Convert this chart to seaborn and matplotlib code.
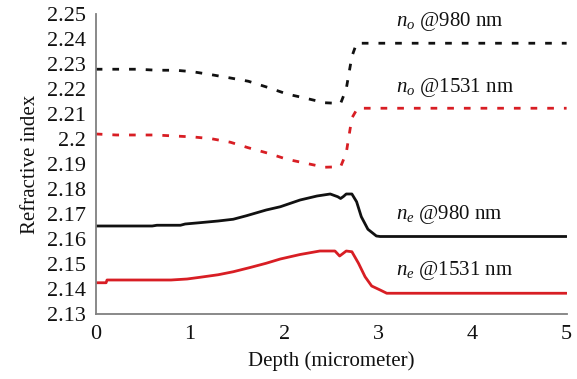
import matplotlib
matplotlib.use("Agg")
import matplotlib.pyplot as plt
import seaborn as sns
import pandas as pd

# Ordinary index n_o (dashed curves)
no_980_depth = [0, 0.25, 0.45, 0.65, 0.85, 1.03, 1.23, 1.43, 1.62, 1.83, 2.03, 2.23, 2.43, 2.60,
                2.66, 2.72, 2.77, 3.0, 3.5, 4.0, 4.5, 5.0]
no_980 = [2.2279, 2.2279, 2.2279, 2.2275, 2.2275, 2.2269, 2.2257, 2.2244, 2.2231, 2.2206, 2.2180,
          2.2163, 2.2145, 2.2142, 2.2200, 2.2330, 2.2383, 2.2383, 2.2383, 2.2383, 2.2383, 2.2383]

no_1531_depth = [0, 0.22, 0.44, 0.63, 0.84, 1.04, 1.23, 1.43, 1.62, 1.83, 2.03, 2.23, 2.43, 2.60,
                 2.66, 2.72, 2.78, 3.0, 3.5, 4.0, 4.5, 5.0]
no_1531 = [2.2020, 2.2016, 2.2016, 2.2016, 2.2012, 2.2008, 2.2001, 2.1987, 2.1965, 2.1943, 2.1919,
           2.1903, 2.1887, 2.1889, 2.1944, 2.2084, 2.2123, 2.2123, 2.2123, 2.2123, 2.2123, 2.2123]

# Extraordinary index n_e (solid curves)
ne_980_depth = [0, 0.60, 0.65, 0.90, 0.95, 1.10, 1.30, 1.46, 1.60, 1.81, 1.96, 2.17, 2.35, 2.49,
                2.57, 2.60, 2.63, 2.66, 2.72, 2.77, 2.82, 2.89, 2.98, 3.02, 3.5, 4.0, 4.5, 5.0]
ne_980 = [2.1652, 2.1652, 2.1655, 2.1655, 2.1660, 2.1665, 2.1672, 2.1679, 2.1693, 2.1716, 2.1729,
          2.1756, 2.1772, 2.1780, 2.1769, 2.1762, 2.1770, 2.1780, 2.1780, 2.1749, 2.1689, 2.1639,
          2.1612, 2.1610, 2.1610, 2.1610, 2.1610, 2.1610]

ne_1531_depth = [0, 0.11, 0.12, 0.80, 0.97, 1.11, 1.30, 1.46, 1.64, 1.81, 1.96, 2.17, 2.38, 2.54,
                 2.59, 2.66, 2.72, 2.79, 2.86, 2.93, 3.02, 3.09, 3.5, 4.0, 4.5, 5.0]
ne_1531 = [2.1425, 2.1425, 2.1436, 2.1436, 2.1440, 2.1447, 2.1457, 2.1469, 2.1486, 2.1503, 2.1520,
           2.1538, 2.1552, 2.1552, 2.1532, 2.1552, 2.1549, 2.1503, 2.1449, 2.1412, 2.1396, 2.1383,
           2.1383, 2.1383, 2.1383, 2.1383]

y_ticks = [2.13, 2.14, 2.15, 2.16, 2.17, 2.18, 2.19, 2.20, 2.21, 2.22, 2.23, 2.24, 2.25]
y_tick_labels = ["2.13", "2.14", "2.15", "2.16", "2.17", "2.18", "2.19", "2.2", "2.21", "2.22",
                 "2.23", "2.24", "2.25"]
x_ticks = [0, 1, 2, 3, 4, 5]

sns.set_style("white")
plt.rcParams["font.family"] = ["Liberation Serif", "DejaVu Serif"]
plt.rcParams["mathtext.fontset"] = "custom"
plt.rcParams["mathtext.rm"] = "Liberation Serif"
plt.rcParams["mathtext.it"] = "Liberation Serif:italic"

BLACK = "#111111"
RED = "#d81e24"

fig = plt.figure(figsize=(5.77, 3.79), dpi=100)
ax = fig.add_axes([0.1659, 0.1715, 0.8161, 0.7916])

dash = (0, (2.4, 3.6))
series = [
    (no_980_depth, no_980, BLACK, dash),
    (no_1531_depth, no_1531, RED, dash),
    (ne_980_depth, ne_980, BLACK, "-"),
    (ne_1531_depth, ne_1531, RED, "-"),
]
for xs, ys, col, ls in series:
    df = pd.DataFrame({"depth": xs, "n": ys})
    sns.lineplot(data=df, x="depth", y="n", ax=ax, color=col, linestyle=ls,
                 linewidth=2.0, sort=False)

ax.set_xlim(0, 5)
ax.set_ylim(2.13, 2.25)
ax.set_xticks(x_ticks)
ax.set_xticklabels([str(t) for t in x_ticks])
ax.set_yticks(y_ticks)
ax.set_yticklabels(y_tick_labels)

for side in ["top", "right"]:
    ax.spines[side].set_visible(False)
for side in ["left", "bottom"]:
    ax.spines[side].set_color("#808080")
    ax.spines[side].set_linewidth(1.3)

ax.tick_params(axis="y", direction="out", length=5, width=1.2, color="#808080",
               labelsize=16, pad=2, labelcolor="#111111")
ax.tick_params(axis="x", direction="inout", length=8, width=1.2, color="#808080",
               labelsize=16, pad=4, labelcolor="#111111")

ax.set_xlabel("Depth (micrometer)", fontsize=15, color="#111111", labelpad=5)
ax.set_ylabel("Refractive index", fontsize=15, color="#111111", labelpad=5)

labels = [
    (3.19, 2.2468, r"$n_o$ @980 nm"),
    (3.19, 2.2204, r"$n_o$ @1531 nm"),
    (3.19, 2.1696, r"$n_e$ @980 nm"),
    (3.19, 2.1473, r"$n_e$ @1531 nm"),
]
for x, y, t in labels:
    ax.text(x, y, t, fontsize=15, color="#111111", ha="left", va="center")

fig.savefig("out.png", dpi=100)
